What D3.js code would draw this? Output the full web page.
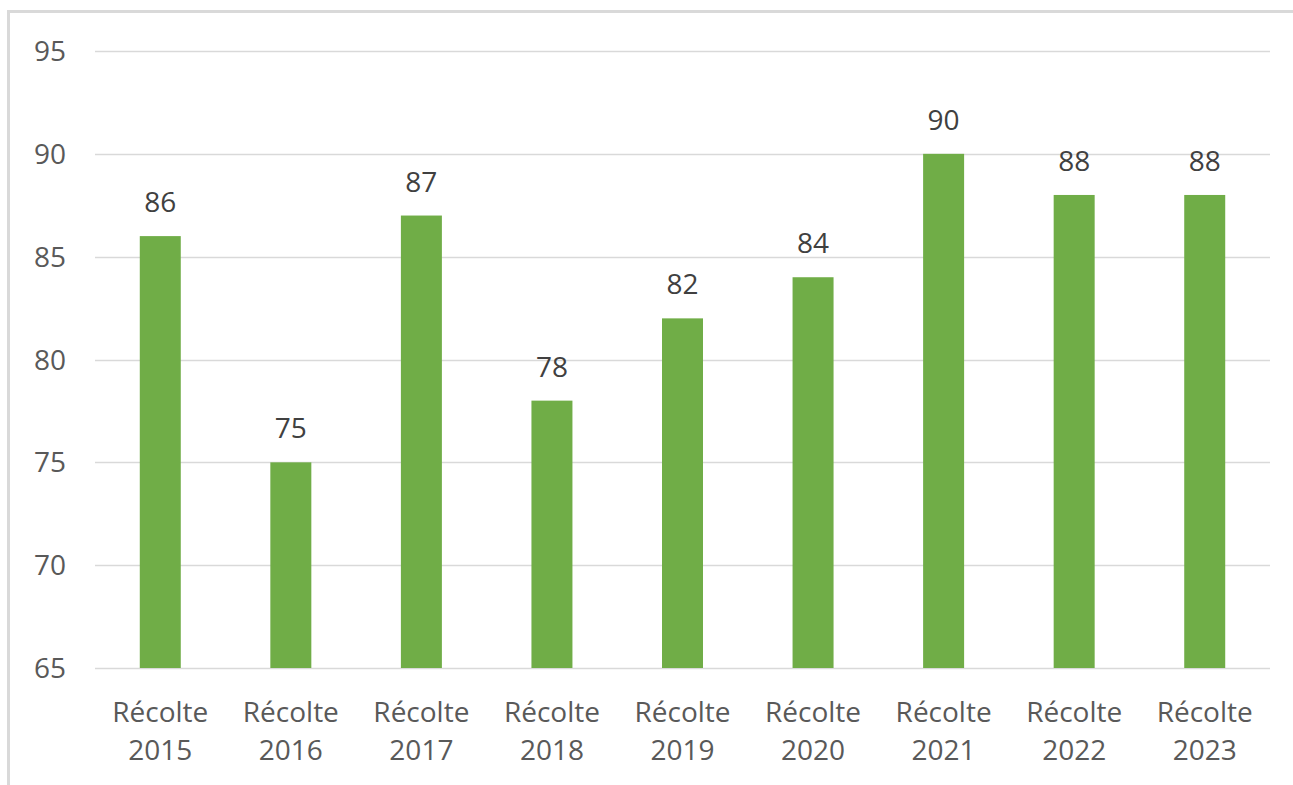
<!DOCTYPE html>
<html>
<head>
<meta charset="utf-8">
<script src="https://cdn.jsdelivr.net/npm/d3@7"></script>
<style>
  html, body { margin: 0; padding: 0; background: #fff; }
  svg { display: block; font-family: "Open Sans", sans-serif; }
</style>
</head>
<body>
<svg id="chart" width="1293" height="785"></svg>
<script>
// Data
const categories = ['Récolte 2015', 'Récolte 2016', 'Récolte 2017', 'Récolte 2018', 'Récolte 2019',
  'Récolte 2020', 'Récolte 2021', 'Récolte 2022', 'Récolte 2023'];
const values = [86, 75, 87, 78, 82, 84, 90, 88, 88];
const yTicks = [65, 70, 75, 80, 85, 90, 95];

const svg = d3.select('#chart');
const margin = { left: 95, right: 23, top: 51, bottom: 117 };
const W = 1293, H = 785;
const fontSize = 28;

// chart frame (only left and top edges are in view)
svg.append('path')
  .attr('d', `M8.5,${H} L8.5,11.5 L${W},11.5`)
  .attr('fill', 'none')
  .attr('stroke', '#d9d9d9')
  .attr('stroke-width', 3);

const x = d3.scaleBand()
  .domain(categories)
  .range([margin.left, W - margin.right])
  .paddingInner(0.686)
  .paddingOuter(0.343);

const y = d3.scaleLinear()
  .domain([65, 95])
  .range([H - margin.bottom, margin.top]);

// gridlines
svg.append('g')
  .selectAll('line')
  .data(yTicks)
  .enter().append('line')
  .attr('x1', margin.left)
  .attr('x2', W - margin.right)
  .attr('y1', d => Math.round(y(d)) + 0.5)
  .attr('y2', d => Math.round(y(d)) + 0.5)
  .attr('stroke', '#d9d9d9')
  .attr('stroke-width', 1.5);

// y labels
svg.append('g')
  .selectAll('text')
  .data(yTicks)
  .enter().append('text')
  .attr('x', 66)
  .attr('y', d => y(d))
  .attr('dy', '0.36em')
  .attr('text-anchor', 'end')
  .attr('fill', '#595959')
  .attr('font-size', fontSize)
  .text(d => d);

// bars
svg.append('g')
  .selectAll('rect')
  .data(values)
  .enter().append('rect')
  .attr('x', (d, i) => x(categories[i]))
  .attr('width', x.bandwidth())
  .attr('y', d => y(d))
  .attr('height', d => y(65) - y(d))
  .attr('fill', '#70ad47');

// value labels
svg.append('g')
  .selectAll('text')
  .data(values)
  .enter().append('text')
  .attr('x', (d, i) => x(categories[i]) + x.bandwidth() / 2)
  .attr('y', d => y(d) - 24)
  .attr('text-anchor', 'middle')
  .attr('fill', '#404040')
  .attr('font-size', fontSize)
  .text(d => d);

// category labels, two lines
const cat = svg.append('g')
  .selectAll('text')
  .data(categories)
  .enter().append('text')
  .attr('x', d => x(d) + x.bandwidth() / 2)
  .attr('y', 722)
  .attr('text-anchor', 'middle')
  .attr('fill', '#595959')
  .attr('font-size', fontSize);

cat.each(function(d) {
  const parts = d.split(' ');
  const t = d3.select(this);
  t.append('tspan').attr('x', t.attr('x')).text(parts[0]);
  t.append('tspan').attr('x', t.attr('x')).attr('dy', 38).text(parts[1]);
});
</script>
</body>
</html>
